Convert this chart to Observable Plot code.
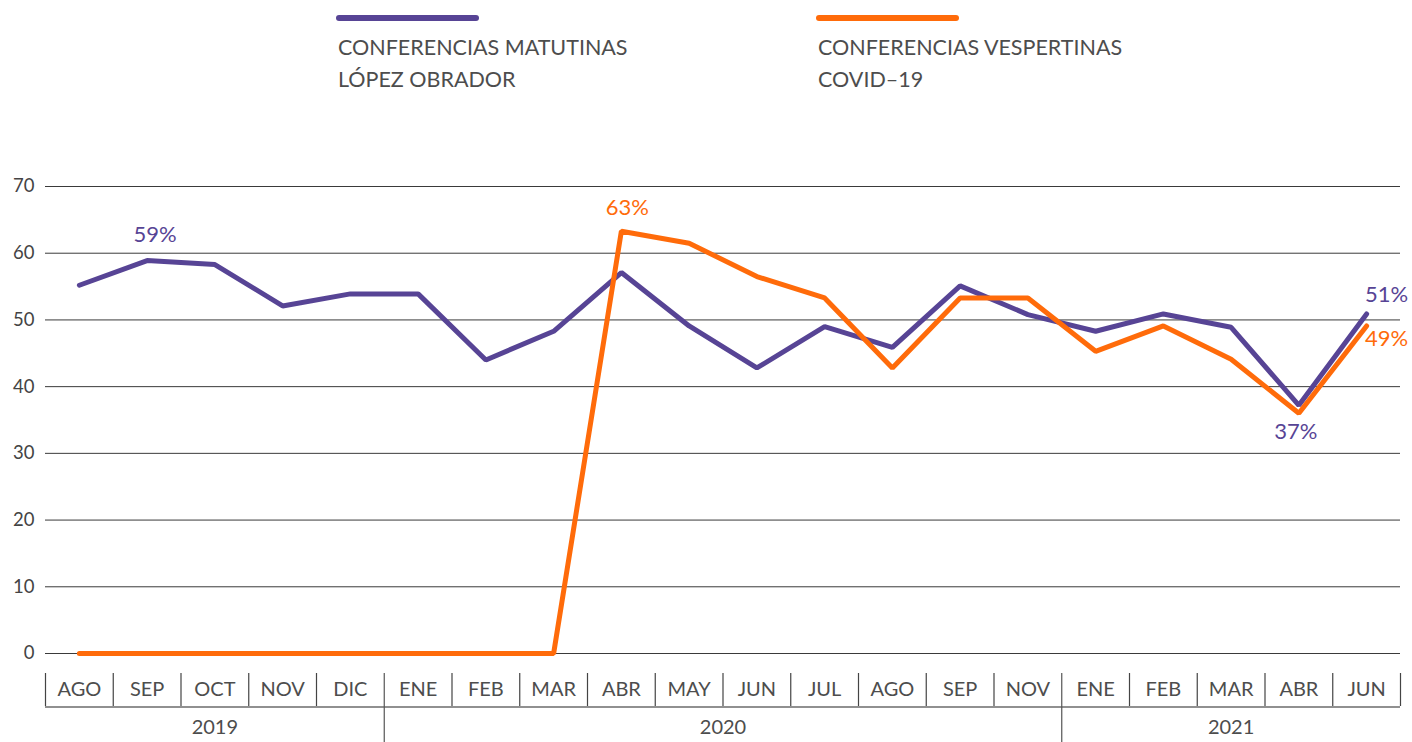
<!DOCTYPE html>
<html>
<head>
<meta charset="utf-8">
<script src="https://cdn.jsdelivr.net/npm/d3@7"></script>
<script src="https://cdn.jsdelivr.net/npm/@observablehq/plot@0.6"></script>
<style>
  body { margin: 0; background: #fff; font-family: Lato, "Open Sans", sans-serif; }
  #legend { position: relative; width: 1412px; height: 110px; }
  .item { position: absolute; top: 0; }
  .swatch { position: absolute; top: 15px; width: 143px; height: 6px; border-radius: 3px; }
  .lab { position: absolute; top: 31px; font-size: 21.5px; line-height: 32px; color: #4d4d4d; white-space: nowrap; }
</style>
</head>
<body>
<div id="legend"></div>
<div id="chart"></div>
<script>
const months = ["AGO","SEP","OCT","NOV","DIC","ENE","FEB","MAR","ABR","MAY","JUN","JUL","AGO","SEP","NOV","ENE","FEB","MAR","ABR","JUN"];
const matutinas = [55.2, 58.9, 58.3, 52.1, 53.9, 53.9, 44.0, 48.3, 57.1, 49.1, 42.8, 49.0, 45.9, 55.1, 50.8, 48.3, 50.9, 48.9, 37.2, 50.9];
const vespertinas = [0, 0, 0, 0, 0, 0, 0, 0, 63.3, 61.5, 56.5, 53.3, 42.8, 53.3, 53.3, 45.3, 49.1, 44.1, 36.0, 49.1];
const years = ["2019", "2020", "2021"];
const yearStart = [0, 5, 15];
const yearEnd = [4, 14, 19];
const seriesNames = [["CONFERENCIAS MATUTINAS", "LÓPEZ OBRADOR"], ["CONFERENCIAS VESPERTINAS", "COVID–19"]];
const colors = ["#574495", "#ff6b0a"];
const yTicks = [0, 10, 20, 30, 40, 50, 60, 70];
// value labels
const labelSeries = [0, 1, 0, 1, 0];
const labelIndex = [1, 8, 19, 19, 18];
const labelText = ["59%", "63%", "51%", "49%", "37%"];
const labelDx = [8, 6, 20, 20, -3];
const labelDy = [-26, -23, -19, 13, 27];

// legend
const legend = document.getElementById("legend");
const legendX = [336, 816];
seriesNames.forEach((lines, k) => {
  const it = document.createElement("div");
  it.className = "item";
  it.style.left = legendX[k] + "px";
  const sw = document.createElement("div");
  sw.className = "swatch";
  sw.style.background = colors[k];
  it.appendChild(sw);
  const lab = document.createElement("div");
  lab.className = "lab";
  lab.style.left = "2px";
  lab.innerHTML = lines.join("<br>");
  it.appendChild(lab);
  legend.appendChild(it);
});

const idx = months.map((_, i) => i);
const dataM = idx.map(i => ({i, v: matutinas[i]}));
const dataV = idx.map(i => ({i, v: vespertinas[i]}));
const bounds = d3.range(-0.5, months.length, 1);
const yearBounds = yearEnd.slice(0, -1).map(e => e + 0.5);
const monthBounds = bounds.filter(b => !yearBounds.includes(b));

const labelMarks = labelText.map((t, k) => Plot.text([{
  i: labelIndex[k],
  v: (labelSeries[k] === 0 ? matutinas : vespertinas)[labelIndex[k]],
  t
}], {
  x: "i", y: "v", text: "t", fill: colors[labelSeries[k]],
  dx: labelDx[k], dy: labelDy[k], fontSize: 22, lineAnchor: "middle"
}));

const chart = Plot.plot({
  width: 1412,
  height: 632,
  marginLeft: 45,
  marginRight: 12,
  marginTop: 76,
  marginBottom: 89,
  style: { fontFamily: "Lato, 'Open Sans', sans-serif", background: "#fff", overflow: "visible" },
  x: { type: "linear", domain: [-0.5, months.length - 0.5], axis: null },
  y: { domain: [0, 70], axis: null },
  marks: [
    Plot.ruleY(yTicks, { stroke: "#3a3a3a", strokeWidth: 1 }),
    Plot.text(yTicks, { x: -0.5, y: d => d, text: d => String(d), textAnchor: "end", dx: -11, fontSize: 18.5, fill: "#444" }),
    // bottom axis table
    Plot.ruleY([0], { dy: 53.5, stroke: "#222", strokeWidth: 1.2 }),
    Plot.ruleX(monthBounds, { x: d => d, y1: 0, y2: 0, insetTop: 20, insetBottom: -53, stroke: "#444", strokeWidth: 1.2 }),
    Plot.ruleX(yearBounds, { x: d => d, y1: 0, y2: 0, insetTop: 20, insetBottom: -89, stroke: "#555", strokeWidth: 1.2 }),
    Plot.text(idx, { x: d => d, text: d => months[d], frameAnchor: "bottom", dy: 36, lineAnchor: "middle", fontSize: 20, fill: "#4d4d4d" }),
    Plot.text(years, { x: (d, k) => (yearStart[k] + yearEnd[k]) / 2, text: d => d, frameAnchor: "bottom", dy: 74, lineAnchor: "middle", fontSize: 20, fill: "#4d4d4d" }),
    // series
    Plot.line(dataM, { x: "i", y: "v", stroke: colors[0], strokeWidth: 5, strokeLinejoin: "miter", strokeLinecap: "round" }),
    Plot.line(dataV, { x: "i", y: "v", stroke: colors[1], strokeWidth: 5, strokeLinejoin: "miter", strokeLinecap: "round" }),
    ...labelMarks
  ]
});
document.getElementById("chart").appendChild(chart);
</script>
</body>
</html>
